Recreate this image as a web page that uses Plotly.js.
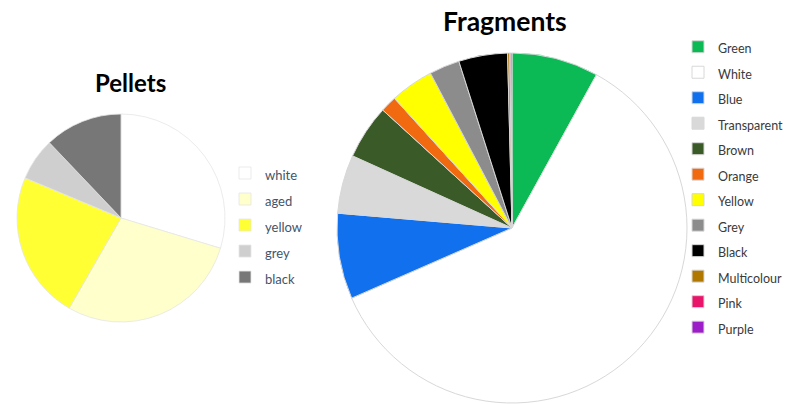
<!DOCTYPE html>
<html>
<head>
<meta charset="utf-8">
<script src="https://cdn.plot.ly/plotly-3.0.1.min.js"></script>
<style>html,body{margin:0;padding:0;background:#fff}#chart{width:786px;height:404px}</style>
</head>
<body>
<div id="chart"></div>
<script>
// Pellets
const pelletLabels = ['white', 'aged', 'yellow', 'grey', 'black'];
const pelletValues = [29.7, 28.6, 23.0, 6.6, 12.1];
const pelletColors = ['#ffffff', '#ffffcc', '#ffff33', '#cfcfcf', '#777777'];

// Fragments
const fragLabels = ['Green', 'White', 'Blue', 'Transparent', 'Brown', 'Orange', 'Yellow', 'Grey', 'Black', 'Multicolour', 'Pink', 'Purple'];
const fragValues = [8.0, 60.3, 7.9, 5.4, 5.0, 1.5, 4.0, 2.8, 4.5, 0.2, 0.1, 0.1];
const fragColors = ['#0bb955', '#ffffff', '#1170ee', '#d9d9d9', '#3a5a27', '#f26a10', '#ffff00', '#8c8c8c', '#000000', '#b07800', '#e8156b', '#9b1ec8'];

function lbl(arr, size) {
  return arr.map(s => '<span style="font-size:' + size + 'px">' + s + '</span>');
}

const traces = [
  {
    type: 'pie',
    labels: lbl(pelletLabels, 13),
    values: pelletValues,
    sort: false,
    direction: 'clockwise',
    rotation: 0,
    textinfo: 'none',
    hoverinfo: 'label+percent',
    marker: {colors: pelletColors, line: {color: '#e6e6e6', width: 0.8}},
    domain: {x: [17/786, 225/786], y: [(404-322)/404, (404-114)/404]},
    legend: 'legend'
  },
  {
    type: 'pie',
    labels: lbl(fragLabels, 12.5),
    values: fragValues,
    sort: false,
    direction: 'clockwise',
    rotation: 0,
    textinfo: 'none',
    hoverinfo: 'label+percent',
    marker: {colors: fragColors, line: {color: '#d8d8d8', width: 1}},
    domain: {x: [337/786, 687/786], y: [1/404, 351/404]},
    legend: 'legend2'
  }
];

const layout = {
  width: 786,
  height: 404,
  margin: {l: 0, r: 0, t: 0, b: 0, autoexpand: false},
  paper_bgcolor: '#ffffff',
  font: {family: 'Lato, "Open Sans", sans-serif'},
  showlegend: true,
  legend: {
    x: 225/786, xanchor: 'left',
    y: (404-155)/404, yanchor: 'top',
    bgcolor: 'rgba(0,0,0,0)',
    font: {size: 17.7, color: '#44546a'}
  },
  legend2: {
    x: 678/786, xanchor: 'left',
    y: (404-29)/404, yanchor: 'top',
    bgcolor: 'rgba(0,0,0,0)',
    font: {size: 17.3, color: '#3a3a3a'}
  },
  annotations: [
    {text: '<b>Pellets</b>', x: 130/786, y: (404-83)/404, xref: 'paper', yref: 'paper',
     xanchor: 'center', yanchor: 'middle', showarrow: false, font: {size: 24, color: '#000000'}},
    {text: '<b>Fragments</b>', x: 505/786, y: (404-21)/404, xref: 'paper', yref: 'paper',
     xanchor: 'center', yanchor: 'middle', showarrow: false, font: {size: 26.5, color: '#000000'}}
  ]
};

Plotly.newPlot('chart', traces, layout, {displayModeBar: false, staticPlot: true});
</script>
</body>
</html>
